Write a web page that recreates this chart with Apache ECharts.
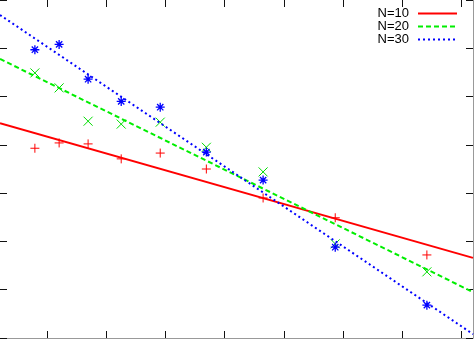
<!DOCTYPE html>
<html>
<head>
<meta charset="utf-8">
<script src="https://cdn.jsdelivr.net/npm/echarts@6/dist/echarts.min.js"></script>
<style>
  html, body { margin: 0; padding: 0; background: #fff; }
  #chart { width: 474px; height: 339px; }
</style>
</head>
<body>
<div id="chart"></div>
<script>
// measured points (x shared by all three sets)
const xVals = [0.59, 1.0, 1.49, 2.05, 2.71, 3.49, 4.45, 5.67, 7.22]
const n10 = [3.93, 4.04, 4.02, 3.71, 3.83, 3.50, 2.90, 2.49, 1.72]
const n20 = [5.49, 5.18, 4.49, 4.43, 4.47, 3.95, 3.44, 1.95, 1.37]
const n30 = [5.97, 6.08, 5.36, 4.90, 4.78, 3.85, 3.27, 1.88, 0.68]

// fitted lines, value at x = 0 and x = 8
const fitX = [0, 8]
const fit10 = [4.45, 1.66]
const fit20 = [5.78, 0.95]
const fit30 = [6.69, 0.08]

const xTicks = [0.8, 1.8, 2.8, 3.8, 4.8, 5.8, 6.8, 7.8]
const legendNames = ['N=10', 'N=20', 'N=30']

const zip = (xs, ys) => xs.map((x, i) => [x, ys[i]])

const plus = 'path://M0,5L10,5M5,0L5,10'
const cross = 'path://M0,0L10,10M10,0L0,10'
const star = 'path://M0,5L10,5M5,0L5,10M1.5,1.5L8.5,8.5M8.5,1.5L1.5,8.5'

const chart = echarts.init(document.getElementById('chart'))

const tickStyle = { show: true, inside: true, length: 7, lineStyle: { color: '#111', width: 1 } }

function xAxis(pos, showLine) {
  return {
    type: 'value', position: pos, min: 0, max: 8,
    axisLine: { show: showLine, onZero: false, lineStyle: { color: '#999', width: 1 } },
    axisTick: Object.assign({ customValues: xTicks }, tickStyle),
    axisLabel: { show: false, customValues: xTicks },
    splitLine: { show: false }
  }
}
function yAxis(pos, showLine) {
  return {
    type: 'value', position: pos, min: 0, max: 7, interval: 1,
    axisLine: { show: showLine, onZero: false, lineStyle: { color: '#999', width: 1 } },
    axisTick: tickStyle,
    axisLabel: { show: false },
    splitLine: { show: false }
  }
}

function points(name, data, symbol, color, width) {
  return {
    name: name, type: 'scatter', data: data, symbol: symbol, symbolSize: 9,
    itemStyle: { color: 'transparent', borderColor: color, borderWidth: width, opacity: 1 },
    emphasis: { disabled: true }, silent: true
  }
}
function fit(name, data, color, type) {
  return {
    name: name, type: 'line', data: data, symbol: 'none', silent: true,
    lineStyle: { color: color, width: 2, type: type },
    itemStyle: { color: color }
  }
}

chart.setOption({
  animation: false,
  backgroundColor: '#fff',
  grid: { left: 0, right: 1, top: 0, bottom: 1 },
  xAxis: [xAxis('bottom', true), xAxis('top', false)],
  yAxis: [yAxis('left', false), yAxis('right', true)],
  legend: {
    data: legendNames,
    orient: 'vertical',
    align: 'right',
    right: 16,
    top: 7,
    padding: 0,
    itemWidth: 39,
    itemHeight: 10,
    itemGap: 0,
    itemStyle: { opacity: 0 },
    textStyle: { fontFamily: 'Liberation Sans', fontSize: 13, lineHeight: 13, color: '#000', padding: [0, 4, 0, 0] }
  },
  series: [
    points('p10', zip(xVals, n10), plus, '#ff0000', 1),
    points('p20', zip(xVals, n20), cross, '#00dd00', 1),
    points('p30', zip(xVals, n30), star, '#0000ff', 1.3),
    fit('N=10', zip(fitX, fit10), '#ff0000', 'solid'),
    fit('N=20', zip(fitX, fit20), '#00ee00', [5, 3]),
    fit('N=30', zip(fitX, fit30), '#0000ff', [2, 3])
  ]
})
</script>
</body>
</html>
